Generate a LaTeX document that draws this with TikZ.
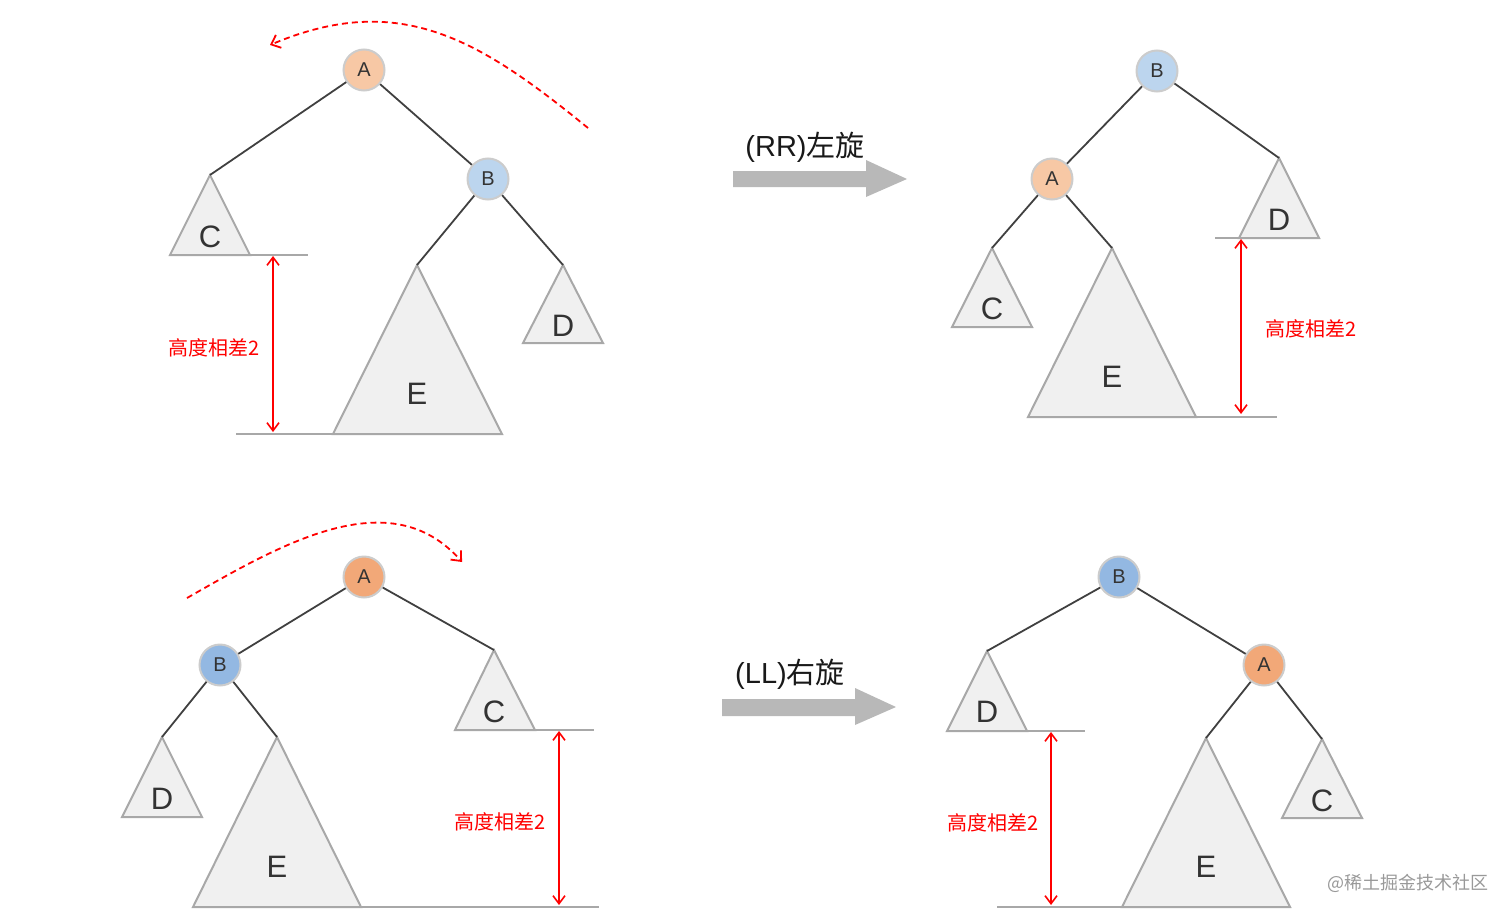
\documentclass[tikz,border=0pt]{standalone}
\usepackage{fontspec}
\setmainfont{Liberation Sans}
\newfontfamily\cjk{Noto Sans CJK SC}
\usetikzlibrary{arrows.meta}
\definecolor{orA}{HTML}{F7C8A5}
\definecolor{orB}{HTML}{F2A878}
\definecolor{blA}{HTML}{BCD5EE}
\definecolor{blB}{HTML}{93B8E2}
\definecolor{trif}{HTML}{F0F0F0}
\definecolor{tril}{HTML}{A8A8A8}
\begin{document}
\begin{tikzpicture}[x=1pt,y=-1pt,
  nd/.style={circle,draw=black!20,line width=2pt,minimum size=41pt,inner sep=0pt,font=\fontsize{20}{20}\selectfont,text=black!80},
  edge/.style={draw=black!75,line width=1.8pt},
  tri/.style={fill=trif,draw=tril,line width=2pt},
  tlab/.style={font=\fontsize{31}{31}\selectfont,text=black!80},
  base/.style={draw=tril,line width=2pt},
  harrow/.style={draw=red,line width=1.6pt,{Straight Barb[length=8pt,width=12pt]}-{Straight Barb[length=8pt,width=12pt]}},
  hlab/.style={text=red,font=\cjk\fontsize{20}{20}\selectfont},
  rot/.style={draw=red,line width=1.8pt,dash pattern=on 6pt off 4pt,-{Straight Barb[length=8pt,width=14pt]}},
  bigarr/.style={fill=black!28,draw=none},
  alab/.style={font=\fontsize{29}{29}\selectfont,text=black!90}]
\useasboundingbox (0,0) rectangle (1512,918);
% ===== top-left
\coordinate (c1) at (210,175); \coordinate (e1) at (417,265); \coordinate (d1) at (563,265);
\draw[tri] (c1) -- (170,255) -- (250,255) -- cycle;
\draw[tri] (e1) -- (333,434) -- (502,434) -- cycle;
\draw[tri] (d1) -- (523,343) -- (603,343) -- cycle;
\node[tlab] (lc1) at (210,237) {C};
\node[tlab] (le1) at (417,394) {E};
\node[tlab] (ld1) at (563,326) {D};
\draw[base] (250,255) -- (308,255);
\draw[base] (236,434) -- (333,434);
\node[nd,fill=orA] (a1) at (364,70) {A};
\node[nd,fill=blA] (b1) at (488,179) {B};
\draw[edge] (a1) -- (c1); \draw[edge] (a1) -- (b1);
\draw[edge] (b1) -- (e1); \draw[edge] (b1) -- (d1);
\coordinate (h1a) at (273,256); \coordinate (h1b) at (273,432);
\draw[harrow] (h1a) -- (h1b);
\node[hlab] (hl1) at (214,348) {高度相差2};
\coordinate (r1s) at (588,128); \coordinate (r1e) at (270,45);
\draw[rot] (r1s) .. controls (480,40) and (400,-10) .. (r1e);
% ===== top arrow
\fill[bigarr] (733,171) -- (866,171) -- (866,160) -- (907,179) -- (866,197) -- (866,187) -- (733,187) -- cycle;
\node[alab] (al1) at (805,147) {(RR){\cjk 左旋}};
% ===== top-right
\coordinate (d2) at (1279,158); \coordinate (c2) at (992,248); \coordinate (e2) at (1112,248);
\draw[tri] (d2) -- (1239,238) -- (1319,238) -- cycle;
\draw[tri] (c2) -- (952,327) -- (1032,327) -- cycle;
\draw[tri] (e2) -- (1028,417) -- (1196,417) -- cycle;
\node[tlab] (ld2) at (1279,220) {D};
\node[tlab] (lc2) at (992,309) {C};
\node[tlab] (le2) at (1112,377) {E};
\draw[base] (1215,238) -- (1239,238);
\draw[base] (1196,417) -- (1277,417);
\node[nd,fill=blA] (b2) at (1157,71) {B};
\node[nd,fill=orA] (a2) at (1052,179) {A};
\draw[edge] (b2) -- (a2); \draw[edge] (b2) -- (d2);
\draw[edge] (a2) -- (c2); \draw[edge] (a2) -- (e2);
\coordinate (h2a) at (1241,239); \coordinate (h2b) at (1241,414);
\draw[harrow] (h2a) -- (h2b);
\node[hlab] (hl2) at (1311,329) {高度相差2};
% ===== bottom-left
\coordinate (c3) at (494,650); \coordinate (d3) at (162,737); \coordinate (e3) at (277,737);
\draw[tri] (c3) -- (455,730) -- (535,730) -- cycle;
\draw[tri] (d3) -- (122,817) -- (202,817) -- cycle;
\draw[tri] (e3) -- (193,907) -- (361,907) -- cycle;
\node[tlab] (lc3) at (494,712) {C};
\node[tlab] (ld3) at (162,799) {D};
\node[tlab] (le3) at (277,867) {E};
\draw[base] (535,730) -- (594,730);
\draw[base] (361,907) -- (599,907);
\node[nd,fill=orB] (a3) at (364,577) {A};
\node[nd,fill=blB] (b3) at (220,665) {B};
\draw[edge] (a3) -- (b3); \draw[edge] (a3) -- (c3);
\draw[edge] (b3) -- (d3); \draw[edge] (b3) -- (e3);
\coordinate (h3a) at (559,731); \coordinate (h3b) at (559,905);
\draw[harrow] (h3a) -- (h3b);
\node[hlab] (hl3) at (500,822) {高度相差2};
\coordinate (r3s) at (187,598); \coordinate (r3e) at (462,562);
\draw[rot] (r3s) .. controls (280,545) and (390,480) .. (r3e);
% ===== bottom arrow
\fill[bigarr] (722,699) -- (855,699) -- (855,688) -- (896,707) -- (855,725) -- (855,716) -- (722,716) -- cycle;
\node[alab] (al2) at (790,674) {(LL){\cjk 右旋}};
% ===== bottom-right
\coordinate (d4) at (987,651); \coordinate (e4) at (1206,738); \coordinate (c4) at (1322,739);
\draw[tri] (d4) -- (947,731) -- (1027,731) -- cycle;
\draw[tri] (e4) -- (1122,907) -- (1290,907) -- cycle;
\draw[tri] (c4) -- (1282,818) -- (1362,818) -- cycle;
\node[tlab] (ld4) at (987,712) {D};
\node[tlab] (le4) at (1206,867) {E};
\node[tlab] (lc4) at (1322,801) {C};
\draw[base] (1027,731) -- (1085,731);
\draw[base] (997,907) -- (1122,907);
\node[nd,fill=blB] (b4) at (1119,577) {B};
\node[nd,fill=orB] (a4) at (1264,665) {A};
\draw[edge] (b4) -- (d4); \draw[edge] (b4) -- (a4);
\draw[edge] (a4) -- (e4); \draw[edge] (a4) -- (c4);
\coordinate (h4a) at (1051,732); \coordinate (h4b) at (1051,905);
\draw[harrow] (h4a) -- (h4b);
\node[hlab] (hl4) at (993,823) {高度相差2};
\node[font=\cjk\fontsize{18}{18}\selectfont,text=black!40] (wm) at (1408,883) {@稀土掘金技术社区};
\end{tikzpicture}
\end{document}
